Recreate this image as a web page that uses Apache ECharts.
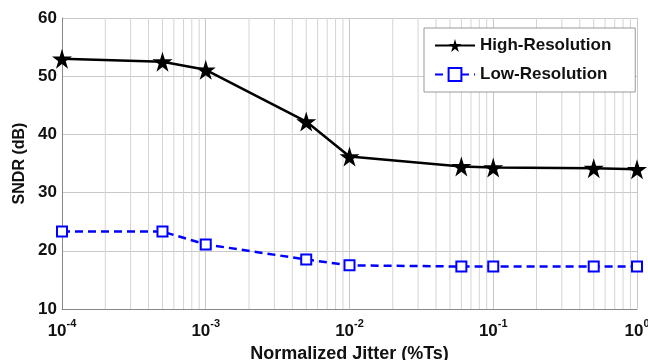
<!DOCTYPE html>
<html><head><meta charset="utf-8">
<script src="https://cdn.jsdelivr.net/npm/echarts@6/dist/echarts.min.js"></script>
<style>html,body{margin:0;padding:0;background:#fff}#c{width:648px;height:360px}</style>
</head><body><div id="c"></div>
<script>
const jitter = [1e-4, 5e-4, 1e-3, 5e-3, 1e-2, 6e-2, 1e-1, 5e-1, 1];
const highRes = [53.0, 52.5, 51.1, 42.2, 36.2, 34.5, 34.3, 34.2, 34.0];
const lowRes  = [23.3, 23.3, 21.1, 18.5, 17.5, 17.3, 17.3, 17.3, 17.3];
const minorTicks = [];
[1e-4, 1e-3, 1e-2, 1e-1].forEach(d => { for (let k = 2; k <= 9; k++) minorTicks.push(+(d * k).toPrecision(3)); });
const yRange = [10, 60];

const star = 'path://M50,0 L61,35 L98,35 L68,57 L79,91 L50,70 L21,91 L32,57 L2,35 L39,35 Z';
const font = 'Liberation Sans, Arial, sans-serif';
const chart = echarts.init(document.getElementById('c'));

const minorSeries = minorTicks.map(v => ({
  type: 'line', silent: true, symbol: 'none', z: 1,
  data: [[v, yRange[0]], [v, yRange[1]]],
  lineStyle: {color: '#d4d4d4', width: 1},
  emphasis: {disabled: true}, tooltip: {show: false}
}));

chart.setOption({
  animation: false,
  grid: {left: 62, right: 11, top: 18, bottom: 51, containLabel: false, outerBoundsMode: 'none'},
  xAxis: {
    type: 'log', logBase: 10, min: 1e-4, max: 1,
    name: 'Normalized Jitter (%Ts)', nameLocation: 'middle', nameGap: 33,
    nameTextStyle: {fontFamily: font, fontWeight: 'bold', fontSize: 18, color: '#111'},
    axisLine: {lineStyle: {color: '#888'}},
    axisTick: {show: false},
    splitLine: {show: true, lineStyle: {color: '#c8c8c8', width: 1}},
    axisLabel: {
      margin: 9,
      formatter: v => '{b|10}{s|' + Math.round(Math.log10(v)) + '}',
      rich: {
        b: {fontFamily: font, fontWeight: 'bold', fontSize: 17, color: '#111', lineHeight: 22, verticalAlign: 'bottom'},
        s: {fontFamily: font, fontWeight: 'bold', fontSize: 11, color: '#111', lineHeight: 22, verticalAlign: 'top', padding: [0, 0, 10, 0]}
      }
    }
  },
  yAxis: {
    type: 'value', min: yRange[0], max: yRange[1], interval: 10,
    name: 'SNDR (dB)', nameLocation: 'middle', nameGap: 34,
    nameTextStyle: {fontFamily: font, fontWeight: 'bold', fontSize: 16, color: '#111'},
    axisLine: {show: true, lineStyle: {color: '#888'}},
    axisTick: {show: false},
    splitLine: {show: true, lineStyle: {color: '#c8c8c8', width: 1}},
    axisLabel: {fontFamily: font, fontWeight: 'bold', fontSize: 17, color: '#111', margin: 5}
  },
  legend: {
    orient: 'vertical', left: 424, top: 28, itemGap: 12,
    backgroundColor: '#fff', borderColor: '#999', borderWidth: 1, padding: [9, 24, 9, 10],
    itemWidth: 40, itemHeight: 16,
    textStyle: {fontFamily: font, fontWeight: 'bold', fontSize: 17, color: '#111'},
    data: ['High-Resolution', 'Low-Resolution']
  },
  series: [
    ...minorSeries,
    {
      name: 'High-Resolution', type: 'line',
      data: jitter.map((x, i) => [x, highRes[i]]),
      symbol: star, symbolSize: 20,
      lineStyle: {color: '#000', width: 2.5},
      itemStyle: {color: '#000'},
      z: 3
    },
    {
      name: 'Low-Resolution', type: 'line',
      data: jitter.map((x, i) => [x, lowRes[i]]),
      symbol: 'rect', symbolSize: 10,
      lineStyle: {color: '#0000ff', width: 2.5, type: [8, 5]},
      itemStyle: {color: '#fff', borderColor: '#0000ff', borderWidth: 2},
      z: 3
    }
  ]
});
</script></body></html>
